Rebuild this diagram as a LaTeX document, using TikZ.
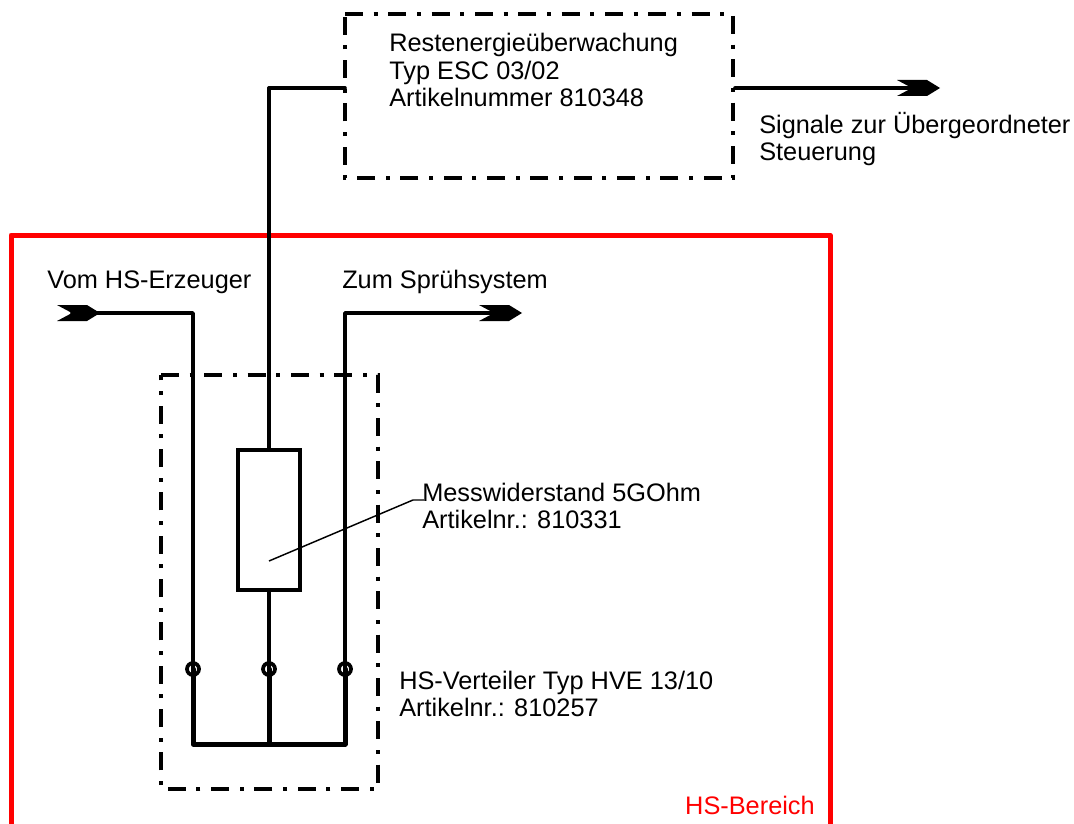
\documentclass[tikz,border=0pt]{standalone}
\usepackage{fontspec}
\setmainfont{Liberation Sans}
\usetikzlibrary{calc}

\tikzset{
	wire/.style={line width=2.7pt,line cap=round,line join=round},
	midwire/.style={line width=2.4pt,line cap=round,line join=round},
	busbar/.style={line width=3.75pt,line cap=round,line join=round},
	frame/.style={line width=3pt,dash pattern=on 13.5pt off 8pt on 3pt off 8pt},
	zone/.style={line width=3.75pt,red,line join=round},
	klemme/.style={line width=2.8pt},
	lab/.style={anchor=west,align=left,inner sep=0pt,font=\fontsize{19}{20.3}\selectfont},
	flowtip/.pic={\fill (-15,-8) -- (0,0) -- (-15,8) -- (15,8) -- (28,0) -- (15,-8) -- cycle;}
}

\begin{document}
\begin{tikzpicture}[x=0.75pt,y=-0.75pt]

		\useasboundingbox (0,0) rectangle (1074,824);

		\coordinate (ZA) at (11,824);
		\coordinate (ZB) at (11,235);
		\coordinate (ZC) at (830,235);
		\coordinate (ZD) at (830,824);

		\coordinate (In) at (72,313);
		\coordinate (InC) at (193,313);
		\coordinate (Out) at (494,313);
		\coordinate (OutC) at (345,313);
		\coordinate (Sig) at (912,88);
		\coordinate (SigS) at (735,88);
		\coordinate (TopC) at (269,88);
		\coordinate (TopE) at (345,88);

		\coordinate (BL) at (193,744);
		\coordinate (BM) at (269,744);
		\coordinate (BR) at (345,744);

		\coordinate (TL) at (193,669);
		\coordinate (TM) at (269,669);
		\coordinate (TR) at (345,669);

		\coordinate (RA) at (238,450);
		\coordinate (RB) at (300,590);
		\coordinate (RT) at (269,450);
		\coordinate (RU) at (269,590);

		\coordinate (LA) at (269,561);
		\coordinate (LB) at (413,500);
		\coordinate (LC) at (424,500);

		% Bereich
		\draw [zone] (ZA)--(ZB)--(ZC)--(ZD);
		\node [lab,anchor=east,red] (Zone) at (815,805) {HS-Bereich};

		% Rahmen
		\draw [frame] (345,14)--(733,14)--(733,178)--(345,178)--cycle;
		\draw [frame] (161,375)--(378,375)--(378,789)--(161,789)--cycle;

		% Leitungen
		\draw [wire] (In)--(InC)--(TL);
		\draw [wire] (TR)--(OutC)--(Out);
		\draw [midwire] (RU)--(TM);
		\draw [midwire] (RT)--(TopC);
		\draw [wire] (TopC)--(TopE);
		\draw [wire] (SigS)--(Sig);
		\draw [busbar] (TL)--(BL)--(BR)--(TR);
		\draw [busbar] (TM)--(BM);

		\pic at (In) {flowtip};
		\pic at (Out) {flowtip};
		\pic at (Sig) {flowtip};

		% Widerstand
		\draw [line width=3pt,fill=white] (RA) rectangle (RB);
		\draw [line width=1.1pt] (LA)--(LB)--(LC);

		\draw [klemme] (TL) circle (6);
		\draw [klemme] (TM) circle (6);
		\draw [klemme] (TR) circle (6);

		% Texte
		\node [lab] (Rest) at (389,70) {Restenergieüberwachung\\Typ ESC 03/02\\Artikelnummer 810348};
		\node [lab] (Signal) at (759,139) {Signale zur Übergeordneter\\Steuerung};
		\node [lab] (Vom) at (47,282) {Vom HS-Erzeuger};
		\node [lab] (Zum) at (342,282) {Zum Sprühsystem};
		\node [lab] (Mess) at (422,506) {Messwiderstand 5GOhm\\Artikelnr.: 810331};
		\node [lab] (Vert) at (399,694) {HS-Verteiler Typ HVE 13/10\\Artikelnr.: 810257};

\end{tikzpicture}
\end{document}
